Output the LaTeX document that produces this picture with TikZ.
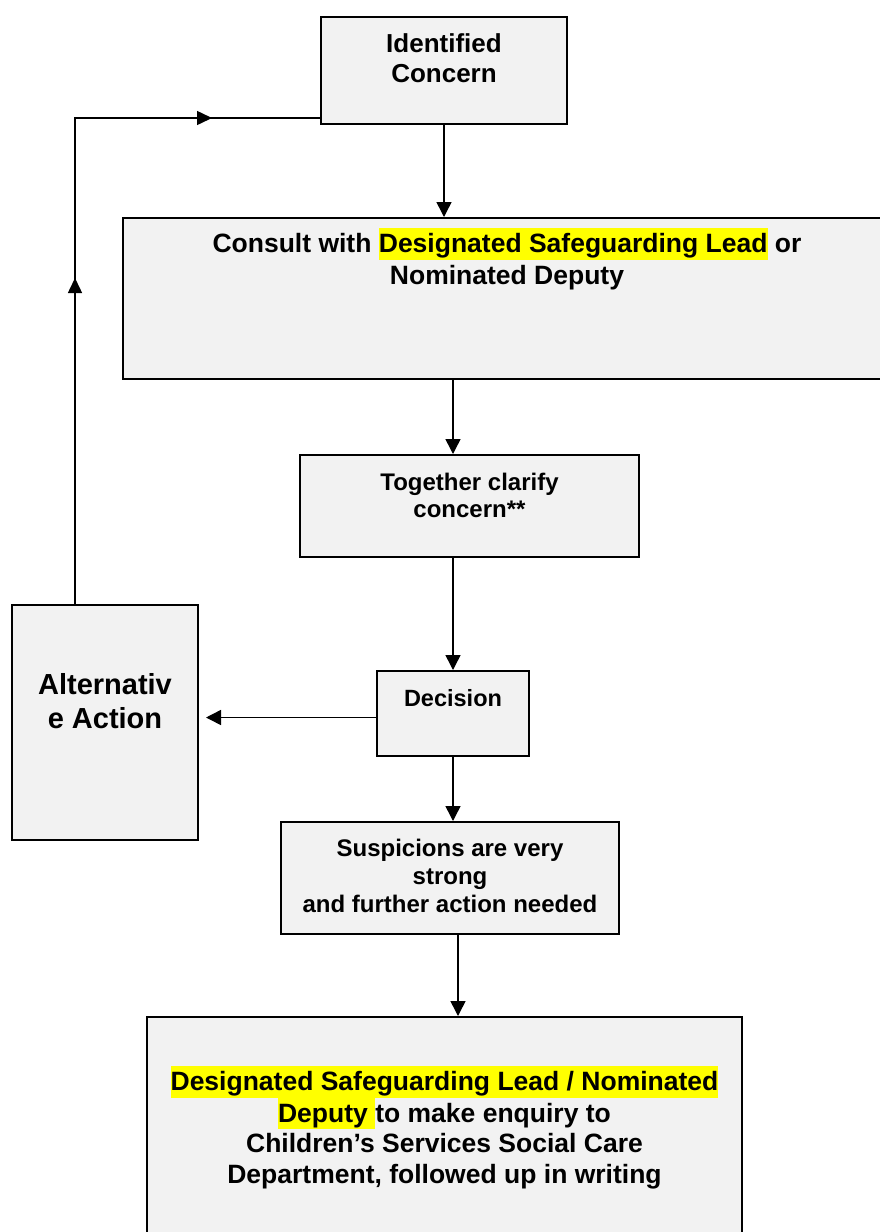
\documentclass[tikz,border=0pt]{standalone}
\usepackage{fontspec}
\setmainfont{Liberation Sans}
\usetikzlibrary{arrows.meta,decorations.markings,calc}
\definecolor{boxgray}{HTML}{F2F2F2}
\definecolor{hlyellow}{HTML}{FFFF00}
\newcommand\hl[1]{{\setlength{\fboxsep}{0pt}\colorbox{hlyellow}{\rule[-0.25em]{0pt}{1.19em}#1}}}
\newcommand\bx[4]{\parbox[t][#2][t]{#1}{\lineskip=0pt\centering\vspace*{#3}\leavevmode\rule{0pt}{0.9em}#4\par\vfill}}
\tikzset{
  box/.style={draw, line width=2pt, fill=boxgray, inner sep=0pt, anchor=north west},
  arr/.style={line width=1.5pt, -{Triangle[length=15pt,width=15pt]}},
  tipmark/.style={line width=1.5pt, postaction={decorate},
    decoration={markings,
      mark=at position 326pt with {\arrow{Triangle[length=15pt,width=14pt]}},
      mark=at position 623pt with {\arrow{Triangle[length=15pt,width=14pt]}}}}
}
\begin{document}
\begin{tikzpicture}[x=1pt,y=-1pt]
\useasboundingbox (0,0) rectangle (880,1232);
\fill[white] (0,0) rectangle (880,1232);
\clip (0,0) rectangle (880,1232);

\node[box, font=\bfseries\fontsize{26}{30}\selectfont] (top) at (320,16)
  {\bx{246pt}{107pt}{12pt}{Identified\\Concern}};
\node[box, font=\bfseries\fontsize{26.5}{32}\selectfont] (consult) at (122,217)
  {\bx{768pt}{161pt}{10pt}{Consult with \hl{Designated Safeguarding Lead} or\\Nominated Deputy}};
\node[box, font=\bfseries\fontsize{24}{27}\selectfont] (together) at (299,454)
  {\bx{339pt}{102pt}{14pt}{Together clarify\\concern**}};
\node[box, font=\bfseries\fontsize{29}{34}\selectfont] (alt) at (11,604)
  {\bx{186pt}{235pt}{63pt}{Alternativ\\e Action}};
\node[box, font=\bfseries\fontsize{23.5}{28}\selectfont] (decision) at (376,670)
  {\bx{152pt}{85pt}{14pt}{Decision}};
\node[box, font=\bfseries\fontsize{24}{28}\selectfont] (susp) at (280,821)
  {\bx{338pt}{112pt}{13pt}{Suspicions are very\\strong\\and further action needed}};
\node[box, font=\bfseries\fontsize{26.5}{30.5}\selectfont] (final) at (146,1016)
  {\bx{595pt}{240pt}{49pt}{\hl{Designated Safeguarding Lead / Nominated}\\\hl{Deputy }to make enquiry to\\Children’s Services Social Care\\Department, followed up in writing}};

\draw[arr] (top.south) -- (top.south |- consult.north);
\draw[arr] (consult.south -| decision.north) -- (together.north -| decision.north);
\draw[arr] (together.south -| decision.north) -- (decision.north);
\draw[arr] (decision.south) -- (decision.south |- susp.north);
\draw[arr] ([xshift=8pt]susp.south) -- ([xshift=8pt]susp.south |- final.north);
\draw[arr, shorten >=7pt] ([yshift=-4pt]decision.west) -- ([yshift=-4pt]decision.west -| alt.east);
\draw[tipmark] ([xshift=-30pt]alt.north) |- ([yshift=7pt]top.south west);
\end{tikzpicture}
\end{document}
